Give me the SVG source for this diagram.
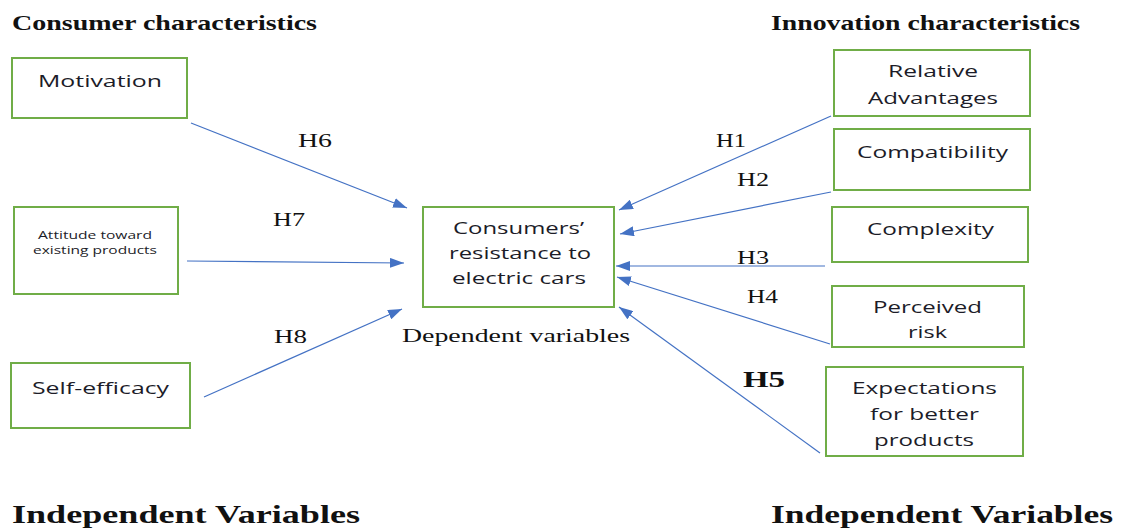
<svg xmlns="http://www.w3.org/2000/svg" width="1127" height="532" viewBox="0 0 1127 532">
<defs>
<style>
.box{fill:#ffffff;stroke:#70ad47;stroke-width:2}
.bt{font-family:"Open Sans","Noto Sans",sans-serif;font-size:17px;fill:#1c1c28}
.sm{font-size:11px}
.hd{font-family:"Liberation Serif","Times New Roman",serif;font-weight:bold;font-size:21px;fill:#111}
.iv{font-family:"Liberation Serif","Times New Roman",serif;font-weight:bold;font-size:25px;fill:#111}
.hl{font-family:"Liberation Serif","Times New Roman",serif;font-size:18px;fill:#111}
.h5{font-family:"Liberation Serif","Times New Roman",serif;font-weight:bold;font-size:23px;fill:#111}
.dv{font-family:"Liberation Serif","Times New Roman",serif;font-size:19px;fill:#111}
.arr{fill:none;stroke:#4472c4;stroke-width:1.2;marker-end:url(#ah)}
</style>
<marker id="ah" markerUnits="userSpaceOnUse" markerWidth="14" markerHeight="10" refX="14" refY="5" orient="auto">
<path d="M0,0 L14,5 L0,10 z" fill="#4472c4"/>
</marker>
</defs>
<rect width="1127" height="532" fill="#ffffff"/>

<text class="hd" x="12" y="30" textLength="305" lengthAdjust="spacingAndGlyphs">Consumer characteristics</text>
<text class="hd" x="771" y="30" textLength="309" lengthAdjust="spacingAndGlyphs">Innovation characteristics</text>
<text class="iv" x="12" y="523" textLength="348" lengthAdjust="spacingAndGlyphs">Independent Variables</text>
<text class="iv" x="771" y="523" textLength="342" lengthAdjust="spacingAndGlyphs">Independent Variables</text>

<g id="motivation">
<rect class="box" x="12" y="58" width="175" height="60"/>
<text class="bt" x="38" y="87" textLength="124" lengthAdjust="spacingAndGlyphs">Motivation</text>
</g>
<g id="attitude">
<rect class="box" x="14" y="207" width="164" height="87"/>
<text class="bt sm" x="38" y="239" textLength="114" lengthAdjust="spacingAndGlyphs">Attitude toward</text>
<text class="bt sm" x="33" y="254" textLength="124" lengthAdjust="spacingAndGlyphs">existing products</text>
</g>
<g id="selfefficacy">
<rect class="box" x="11" y="363" width="179" height="65"/>
<text class="bt" x="32" y="394" textLength="137" lengthAdjust="spacingAndGlyphs">Self-efficacy</text>
</g>
<g id="resistance">
<rect class="box" x="423" y="207" width="191" height="100"/>
<text class="bt" x="453" y="234" textLength="131" lengthAdjust="spacingAndGlyphs">Consumers’</text>
<text class="bt" x="449" y="259" textLength="142" lengthAdjust="spacingAndGlyphs">resistance to</text>
<text class="bt" x="452" y="284" textLength="134" lengthAdjust="spacingAndGlyphs">electric cars</text>
</g>
<text class="dv" x="402" y="342" textLength="228" lengthAdjust="spacingAndGlyphs">Dependent variables</text>

<g id="relative">
<rect class="box" x="834" y="50" width="196" height="66"/>
<text class="bt" x="888" y="77" textLength="90" lengthAdjust="spacingAndGlyphs">Relative</text>
<text class="bt" x="868" y="104" textLength="130" lengthAdjust="spacingAndGlyphs">Advantages</text>
</g>
<g id="compatibility">
<rect class="box" x="834" y="129" width="196" height="61"/>
<text class="bt" x="857" y="158" textLength="151" lengthAdjust="spacingAndGlyphs">Compatibility</text>
</g>
<g id="complexity">
<rect class="box" x="832" y="207" width="196" height="55"/>
<text class="bt" x="867" y="235" textLength="127" lengthAdjust="spacingAndGlyphs">Complexity</text>
</g>
<g id="risk">
<rect class="box" x="832" y="286" width="192" height="61"/>
<text class="bt" x="873" y="313" textLength="109" lengthAdjust="spacingAndGlyphs">Perceived</text>
<text class="bt" x="908" y="338" textLength="39" lengthAdjust="spacingAndGlyphs">risk</text>
</g>
<g id="expectations">
<rect class="box" x="826" y="367" width="197" height="89"/>
<text class="bt" x="852" y="394" textLength="145" lengthAdjust="spacingAndGlyphs">Expectations</text>
<text class="bt" x="870" y="420" textLength="109" lengthAdjust="spacingAndGlyphs">for better</text>
<text class="bt" x="874" y="446" textLength="100" lengthAdjust="spacingAndGlyphs">products</text>
</g>

<g id="connectors">
<line class="arr" x1="191" y1="123" x2="407" y2="208"/>
<line class="arr" x1="187" y1="261" x2="404" y2="263"/>
<line class="arr" x1="204" y1="397" x2="402" y2="309"/>
<line class="arr" x1="831" y1="116" x2="619" y2="210"/>
<line class="arr" x1="831" y1="192" x2="620" y2="234"/>
<line class="arr" x1="825" y1="266" x2="616" y2="266"/>
<line class="arr" x1="830" y1="344" x2="617" y2="277"/>
<line class="arr" x1="820" y1="453" x2="619" y2="307"/>
</g>

<text class="hl" x="298" y="147" textLength="34" lengthAdjust="spacingAndGlyphs">H6</text>
<text class="hl" x="273" y="226" textLength="32" lengthAdjust="spacingAndGlyphs">H7</text>
<text class="hl" x="274" y="343" textLength="33" lengthAdjust="spacingAndGlyphs">H8</text>
<text class="hl" x="716" y="147" textLength="30" lengthAdjust="spacingAndGlyphs">H1</text>
<text class="hl" x="737" y="186" textLength="32" lengthAdjust="spacingAndGlyphs">H2</text>
<text class="hl" x="737" y="264" textLength="32" lengthAdjust="spacingAndGlyphs">H3</text>
<text class="hl" x="747" y="303" textLength="31" lengthAdjust="spacingAndGlyphs">H4</text>
<text class="h5" x="743" y="387" textLength="42" lengthAdjust="spacingAndGlyphs">H5</text>
</svg>
